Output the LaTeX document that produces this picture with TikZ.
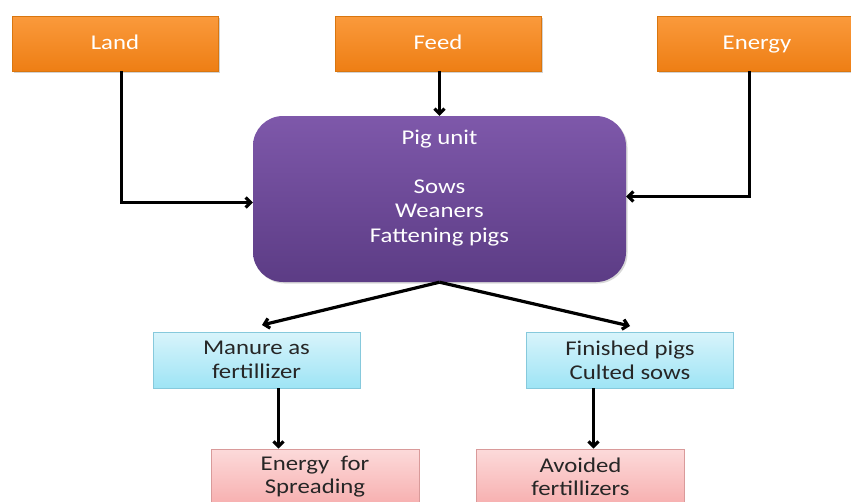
\documentclass[tikz,border=0pt]{standalone}
\usepackage{fontspec}
\setmainfont[FakeStretch=1.18]{Carlito}
\usetikzlibrary{arrows.meta,shadows}
\definecolor{orgtop}{HTML}{FA9A3C}
\definecolor{orgbot}{HTML}{EE7E14}
\definecolor{orgline}{HTML}{D9760F}
\definecolor{purtop}{HTML}{7E58AA}
\definecolor{purbot}{HTML}{5C3C85}
\definecolor{cyntop}{HTML}{D8F4FB}
\definecolor{cynbot}{HTML}{9EE4F5}
\definecolor{cynline}{HTML}{86C9DC}
\definecolor{pnktop}{HTML}{FCDADA}
\definecolor{pnkbot}{HTML}{F7AFAF}
\definecolor{pnkline}{HTML}{D99A9A}
\tikzset{
  inbox/.style={draw=orgline, line width=0.6pt, top color=orgtop, bottom color=orgbot,
    minimum width=206pt, minimum height=55pt, text=white, font=\fontsize{21}{24}\selectfont,
    text height=12pt, text depth=0pt,
    drop shadow={shadow xshift=1.5pt, shadow yshift=-1.5pt, opacity=0.35}},
  unitbox/.style={rounded corners=30pt, top color=purtop, bottom color=purbot,
    minimum width=373pt, minimum height=166pt,
    drop shadow={shadow xshift=1.5pt, shadow yshift=-1.5pt, opacity=0.3}},
  unittxt/.style={text=white, align=center, font=\fontsize{21}{24.5}\selectfont},
  outbox/.style={draw=cynline, line width=0.6pt, top color=cyntop, bottom color=cynbot,
    minimum width=207pt, minimum height=56pt, text=black!85, align=center,
    font=\fontsize{21}{24}\selectfont},
  endbox/.style={draw=pnkline, line width=0.6pt, top color=pnktop, bottom color=pnkbot,
    minimum width=208pt, minimum height=56pt, text=black!85, align=center,
    font=\fontsize{21}{23}\selectfont},
  flow/.style={draw=black, line width=3.2pt, -{Straight Barb[length=5pt,width=10pt]}}
}
\begin{document}
\begin{tikzpicture}[x=1pt,y=-1pt]
\useasboundingbox (0,0) rectangle (851,501);
\clip (0,0) rectangle (851,501);
\fill[white] (0,0) rectangle (851,501);
\node[inbox] (land) at (115,43.5) {Land};
\node[inbox] (feed) at (438,43.5) {Feed};
\node[inbox, minimum width=200pt] (energy) at (757,43.5) {Energy};
\node[unitbox] (unit) at (439.5,199) {};
\node[unittxt] (unittext) at (439.5,188) {Pig unit\\[24pt]Sows\\Weaners\\Fattening pigs};
\node[outbox] (manure) at (256.5,360) {Manure as\\fertillizer};
\node[outbox] (finished) at (630,360) {Finished pigs\\Culted sows};
\node[endbox] (spread) at (315,477) {Energy\ \ for\\Spreading};
\node[endbox] (avoided) at (580.5,477) {Avoided\\fertillizers};
\coordinate (lc) at (121.5,202.5);
\coordinate (ec) at (749.5,196.5);
\coordinate (mx) at (278.5,0);
\coordinate (fx) at (593.5,0);
\coordinate (ml) at (262,325);
\coordinate (fr) at (630,326);
\path[flow] (land.south -| lc) -- (lc) -- (lc -| unit.west);
\path[flow] (feed.south -| unit.north) -- (unit.north);
\path[flow] (energy.south -| ec) -- (ec) -- (ec -| unit.east);
\path[flow] (unit.south) -- (ml);
\path[flow] (unit.south) -- (fr);
\path[flow] (manure.south -| mx) -- (spread.north -| mx);
\path[flow] (finished.south -| fx) -- (avoided.north -| fx);
\end{tikzpicture}
\end{document}
